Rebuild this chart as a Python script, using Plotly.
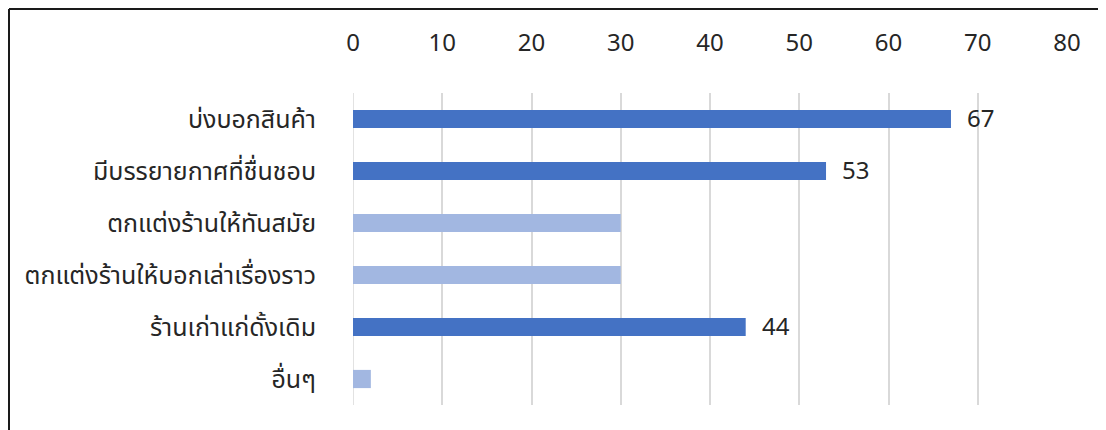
import plotly.graph_objects as go

categories = [
    "บ่งบอกสินค้า",
    "มีบรรยายกาศที่ชื่นชอบ",
    "ตกแต่งร้านให้ทันสมัย",
    "ตกแต่งร้านให้บอกเล่าเรื่องราว",
    "ร้านเก่าแก่ดั้งเดิม",
    "อื่นๆ",
]
values = [67, 53, 30, 30, 44, 2]
highlight = [True, True, False, False, True, False]
x_ticks = [0, 10, 20, 30, 40, 50, 60, 70, 80]

DARK = "#4472C4"
LIGHT = "#A2B7E1"
FONT = "Noto Sans Thai, Noto Sans, DejaVu Sans, sans-serif"
TXT = "#262626"

# page has an 8px body margin; figure placed at (8, 8)
W, H = 1098, 422
ML, MR, MT, MB = 345, 39, 85, 25

fig = go.Figure()
fig.add_trace(go.Bar(
    y=categories,
    x=values,
    orientation="h",
    marker=dict(color=[DARK if h else LIGHT for h in highlight], line=dict(width=0)),
    width=0.35,
    hoverinfo="x+y",
))

for c, v, h in zip(categories, values, highlight):
    if h:
        fig.add_annotation(x=v, y=c, text=str(v), showarrow=False,
                           xanchor="left", xshift=14, yshift=-1,
                           font=dict(family=FONT, size=24, color=TXT))

pw = W - ML - MR
ph = H - MT - MB
x0 = (1 - ML) / pw
y_top = 1 + (MT - 1) / ph
fig.add_shape(type="line", xref="paper", yref="paper", x0=x0, x1=x0,
              y0=-MB / ph - 0.05, y1=y_top, line=dict(color="#1a1a1a", width=2))
fig.add_shape(type="line", xref="paper", yref="paper", x0=x0, x1=(W + 10 - ML) / pw,
              y0=y_top, y1=y_top, line=dict(color="#1a1a1a", width=2))

fig.update_layout(
    width=W, height=H,
    margin=dict(l=ML, r=MR, t=MT, b=MB),
    paper_bgcolor="white", plot_bgcolor="white",
    showlegend=False,
    font=dict(family=FONT, color=TXT),
    xaxis=dict(
        side="top", range=[0, 80], tickvals=x_ticks,
        showgrid=True, gridcolor="#D9D9D9", gridwidth=1.5,
        zeroline=False, showline=False, ticks="",
        tickfont=dict(family=FONT, size=24, color=TXT),
        ticklabelstandoff=36,
    ),
    yaxis=dict(
        autorange="reversed", categoryorder="array", categoryarray=categories,
        showgrid=False, zeroline=False, ticks="",
        showline=False,
        tickfont=dict(family=FONT, size=25, color=TXT),
        ticklabelstandoff=36,
    ),
)
fig.add_shape(type="line", xref="x", yref="paper", x0=0, x1=0, y0=0, y1=1,
              line=dict(color="#D9D9D9", width=1.5), layer="below")

fig.write_html("out.html")
